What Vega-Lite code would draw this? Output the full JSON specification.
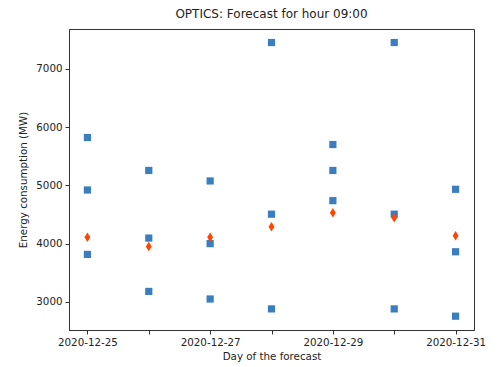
{
  "$schema": "https://vega.github.io/schema/vega-lite/v6.json",
  "autosize": {"type": "none"},
  "padding": {"left": 69, "top": 29, "right": 24, "bottom": 37},
  "width": 405,
  "height": 301,
  "background": "white",
  "config": {
    "font": "DejaVu Sans",
    "view": {"stroke": "#333", "strokeWidth": 1},
    "axis": {
      "grid": false,
      "domainColor": "#333",
      "tickColor": "#333",
      "tickSize": 4,
      "labelColor": "#222",
      "titleColor": "#222",
      "labelFont": "DejaVu Sans",
      "titleFont": "DejaVu Sans",
      "labelFontSize": 10.3,
      "titleFontSize": 10.3,
      "titleFontWeight": "normal"
    }
  },
  "title": {
    "text": "OPTICS: Forecast for hour 09:00",
    "font": "DejaVu Sans",
    "fontSize": 12,
    "fontWeight": "normal",
    "color": "#222",
    "offset": 8
  },
  "data": {
    "values": [
      {"day": "2020-12-25", "kind": "cluster", "mw": 5820},
      {"day": "2020-12-25", "kind": "cluster", "mw": 4920},
      {"day": "2020-12-25", "kind": "cluster", "mw": 3815},
      {"day": "2020-12-25", "kind": "forecast", "mw": 4110},
      {"day": "2020-12-26", "kind": "cluster", "mw": 5255},
      {"day": "2020-12-26", "kind": "cluster", "mw": 4095},
      {"day": "2020-12-26", "kind": "cluster", "mw": 3180},
      {"day": "2020-12-26", "kind": "forecast", "mw": 3950},
      {"day": "2020-12-27", "kind": "cluster", "mw": 5075},
      {"day": "2020-12-27", "kind": "cluster", "mw": 4000},
      {"day": "2020-12-27", "kind": "cluster", "mw": 3050},
      {"day": "2020-12-27", "kind": "forecast", "mw": 4110},
      {"day": "2020-12-28", "kind": "cluster", "mw": 7450},
      {"day": "2020-12-28", "kind": "cluster", "mw": 4505},
      {"day": "2020-12-28", "kind": "cluster", "mw": 2880},
      {"day": "2020-12-28", "kind": "forecast", "mw": 4290},
      {"day": "2020-12-29", "kind": "cluster", "mw": 5700},
      {"day": "2020-12-29", "kind": "cluster", "mw": 5255},
      {"day": "2020-12-29", "kind": "cluster", "mw": 4737},
      {"day": "2020-12-29", "kind": "forecast", "mw": 4530},
      {"day": "2020-12-30", "kind": "cluster", "mw": 7450},
      {"day": "2020-12-30", "kind": "cluster", "mw": 4505},
      {"day": "2020-12-30", "kind": "cluster", "mw": 2880},
      {"day": "2020-12-30", "kind": "forecast", "mw": 4445},
      {"day": "2020-12-31", "kind": "cluster", "mw": 4932},
      {"day": "2020-12-31", "kind": "cluster", "mw": 3860},
      {"day": "2020-12-31", "kind": "cluster", "mw": 2755},
      {"day": "2020-12-31", "kind": "forecast", "mw": 4133}
    ]
  },
  "encoding": {
    "x": {
      "field": "day",
      "type": "temporal",
      "scale": {
        "type": "utc",
        "domain": [
          {"year": 2020, "month": 12, "date": 24, "hours": 16, "minutes": 48, "utc": true},
          {"year": 2020, "month": 12, "date": 31, "hours": 7, "minutes": 12, "utc": true}
        ]
      },
      "axis": {
        "title": "Day of the forecast",
        "values": [
          {"year": 2020, "month": 12, "date": 25, "utc": true},
          {"year": 2020, "month": 12, "date": 26, "utc": true},
          {"year": 2020, "month": 12, "date": 27, "utc": true},
          {"year": 2020, "month": 12, "date": 28, "utc": true},
          {"year": 2020, "month": 12, "date": 29, "utc": true},
          {"year": 2020, "month": 12, "date": 30, "utc": true},
          {"year": 2020, "month": 12, "date": 31, "utc": true}
        ],
        "labelExpr": "utcdate(datum.value) % 2 == 1 ? utcFormat(datum.value, '%Y-%m-%d') : ''",
        "labelPadding": 3,
        "titlePadding": 4,
        "labelFlush": false,
        "labelOverlap": false
      }
    },
    "y": {
      "field": "mw",
      "type": "quantitative",
      "scale": {"domain": [2518, 7682], "nice": false, "zero": false},
      "axis": {
        "title": "Energy consumption (MW)",
        "values": [3000, 4000, 5000, 6000, 7000],
        "format": "d",
        "labelPadding": 3,
        "titlePadding": 7
      }
    }
  },
  "layer": [
    {
      "transform": [{"filter": "datum.kind == 'cluster'"}],
      "mark": {"type": "point", "shape": "square", "filled": true, "size": 52, "color": "#3a7ebf", "opacity": 1}
    },
    {
      "transform": [{"filter": "datum.kind == 'forecast'"}],
      "mark": {"type": "point", "shape": "M0,-1L0.62,0L0,1L-0.62,0Z", "filled": true, "size": 90, "color": "#ff4500", "opacity": 1}
    }
  ]
}
